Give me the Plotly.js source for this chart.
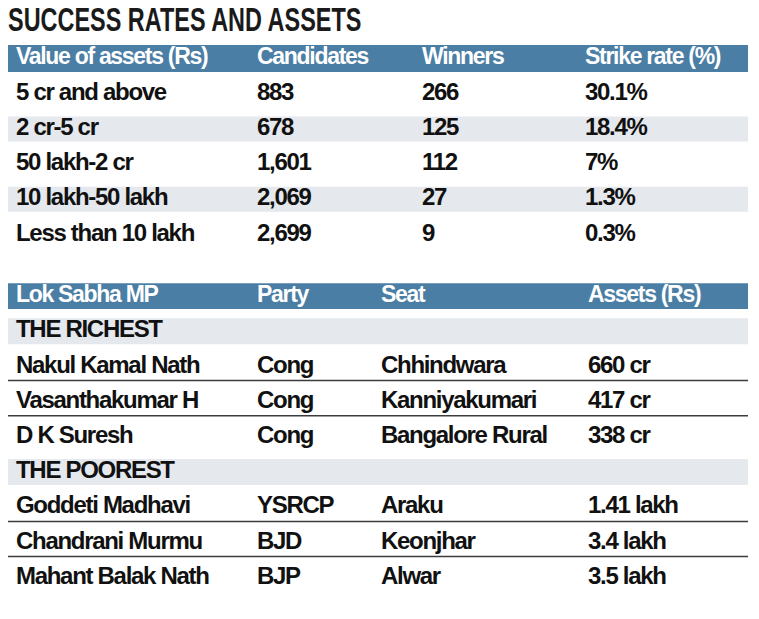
<!DOCTYPE html>
<html>
<head>
<meta charset="utf-8">
<script src="https://cdn.plot.ly/plotly-3.0.1.min.js"></script>
<style>
html,body{margin:0;padding:0;background:#fff;}
#chart{width:759px;height:619px;}
#chart .textpoint text{letter-spacing:-1.3px;}
#chart text.gtitle{transform-box:view-box;transform-origin:8px 0px;transform:scaleX(0.69);}
</style>
</head>
<body>
<div id="chart"></div>
<script>
// ---------- DATA ----------
const chartTitle = "SUCCESS RATES AND ASSETS";
const table1Headers = ["Value of assets (Rs)", "Candidates", "Winners", "Strike rate (%)"];
const assetClasses = ["5 cr and above", "2 cr-5 cr", "50 lakh-2 cr", "10 lakh-50 lakh", "Less than 10 lakh"];
const candidates = [883, 678, 1601, 2069, 2699];
const winners = [266, 125, 112, 27, 9];
const strikeRate = [30.1, 18.4, 7, 1.3, 0.3];

const table2Headers = ["Lok Sabha MP", "Party", "Seat", "Assets (Rs)"];
const groupLabels = ["THE RICHEST", "THE POOREST"];
const richestMP = ["Nakul Kamal Nath", "Vasanthakumar H", "D K Suresh"];
const richestParty = ["Cong", "Cong", "Cong"];
const richestSeat = ["Chhindwara", "Kanniyakumari", "Bangalore Rural"];
const richestAssets = ["660 cr", "417 cr", "338 cr"];
const poorestMP = ["Goddeti Madhavi", "Chandrani Murmu", "Mahant Balak Nath"];
const poorestParty = ["YSRCP", "BJD", "BJP"];
const poorestSeat = ["Araku", "Keonjhar", "Alwar"];
const poorestAssets = ["1.41 lakh", "3.4 lakh", "3.5 lakh"];

// ---------- LAYOUT CONSTANTS ----------
const W = 759, H = 619;
const PITCH = 35.2, ORIGIN = 58.5;       // px per row, px of first header centre
const LEFT = 8, RIGHT = 748;
const col1X = [16, 257, 422, 585];
const col2X = [16, 257, 381, 588];
const T2_START = 6.75;
const FONT = '"Liberation Sans", Arial, sans-serif';
const HEAD_BLUE = '#4a7ea4';
const BAND_GREY = '#e5e8ed';
const TEXT = '#111111';

// ---------- BUILD ROWS ----------
const traces = [];
const shapes = [];
function textTrace(x, y, text, color, size) {
  traces.push({
    type: 'scatter', mode: 'text', x: x, y: y, text: text,
    textposition: 'middle right', cliponaxis: false, hoverinfo: 'skip',
    textfont: {family: FONT, size: size, color: color, weight: 'bold'},
    showlegend: false
  });
}
function band(u, half, color) {
  shapes.push({type: 'rect', xref: 'x', yref: 'y', x0: LEFT, x1: RIGHT,
    y0: u - half, y1: u + half, fillcolor: color, line: {width: 0}, layer: 'below'});
}
function rule(u) {
  shapes.push({type: 'line', xref: 'x', yref: 'y', x0: LEFT, x1: RIGHT,
    y0: u, y1: u, line: {color: '#3c3c3c', width: 1.5}, layer: 'below'});
}

// Table 1
band(0, 0.38, HEAD_BLUE);
textTrace(col1X, table1Headers.map(() => 0), table1Headers, '#ffffff', 23);
const t1Rows = assetClasses.map((_, i) => i + 1);
t1Rows.forEach((u, i) => { if (i % 2 === 1) band(u, 0.355, BAND_GREY); });
const t1Cols = [
  assetClasses,
  candidates.map(v => v.toLocaleString('en-US')),
  winners.map(String),
  strikeRate.map(v => v + '%')
];
t1Cols.forEach((col, c) => textTrace(t1Rows.map(() => col1X[c]), t1Rows, col, TEXT, 24));

// Table 2
band(T2_START, 0.365, HEAD_BLUE);
textTrace(col2X, table2Headers.map(() => T2_START), table2Headers, '#ffffff', 23);
const groups = [
  [richestMP, richestParty, richestSeat, richestAssets],
  [poorestMP, poorestParty, poorestSeat, poorestAssets]
];
let u = T2_START + 1;
groups.forEach((g, gi) => {
  band(u, 0.37, BAND_GREY);
  textTrace([col2X[0]], [u], [groupLabels[gi]], TEXT, 24);
  u += 1;
  const rows = g[0].map((_, i) => u + i);
  rows.forEach((r, i) => { if (i < rows.length - 1) rule(r + 0.4); });
  g.forEach((col, c) => textTrace(rows.map(() => col2X[c]), rows, col, TEXT, 24));
  u += rows.length;
});

const layout = {
  width: W, height: H,
  margin: {l: 0, r: 0, t: 0, b: 0},
  paper_bgcolor: '#ffffff', plot_bgcolor: '#ffffff',
  title: {text: chartTitle, x: LEFT / W, xanchor: 'left', xref: 'container',
          y: 1 - 7 / H, yanchor: 'top', yref: 'container',
          font: {family: FONT, size: 34, color: '#1a1a1a', weight: 'bold'}},
  xaxis: {range: [0, W], visible: false, fixedrange: true},
  yaxis: {range: [(H - ORIGIN) / PITCH, -ORIGIN / PITCH], visible: false, fixedrange: true},
  shapes: shapes,
  showlegend: false
};
Plotly.newPlot('chart', traces, layout, {staticPlot: true, displayModeBar: false});
</script>
</body>
</html>
